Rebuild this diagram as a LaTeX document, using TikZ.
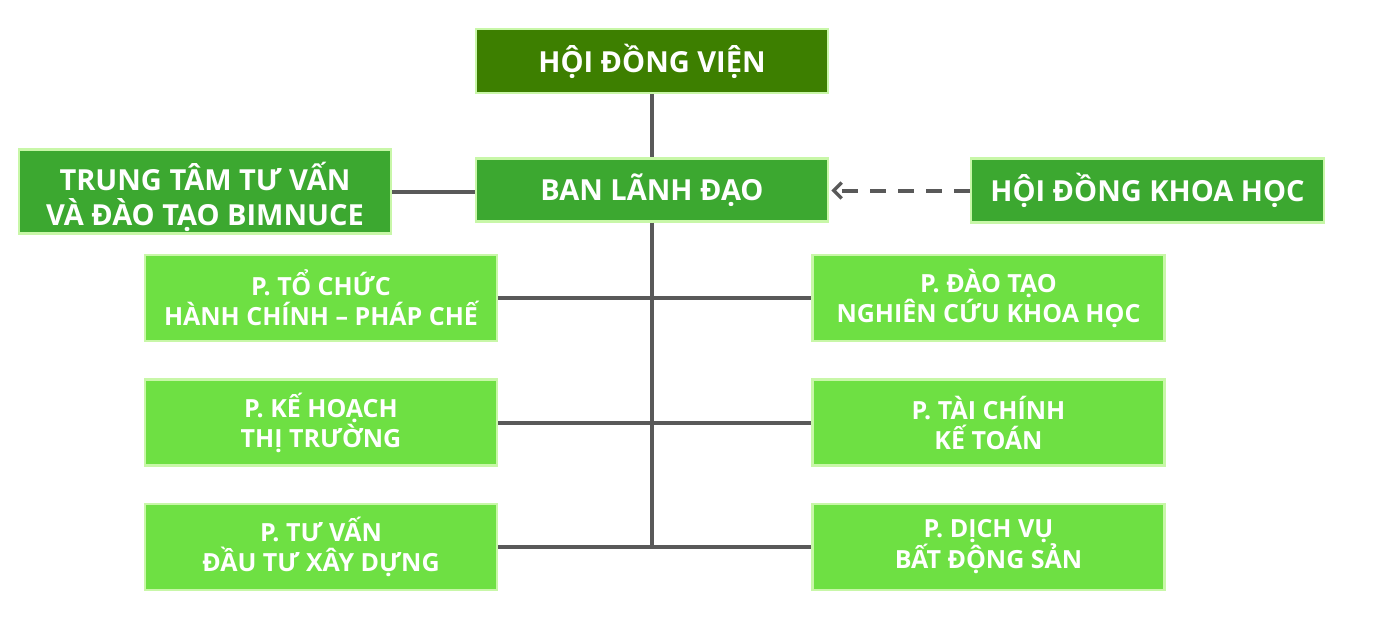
\documentclass[tikz,border=0pt]{standalone}
\usepackage{fontspec}
\setmainfont{Open Sans}[BoldFont={Open Sans Bold}]
\usetikzlibrary{arrows.meta}
\definecolor{dkgreen}{HTML}{3D7F00}
\definecolor{mdgreen}{HTML}{3CA830}
\definecolor{ltgreen}{HTML}{6EE043}
\definecolor{edgegreen}{HTML}{C8F7A8}
\definecolor{linegray}{HTML}{595959}
\tikzset{
  box/.style={draw=edgegreen, line width=2.5pt, text=white, align=center, inner sep=0pt, font=\bfseries},
  topbox/.style={box, font=\bfseries\fontsize{29}{35}\selectfont},
  dept/.style={box, fill=ltgreen, minimum width=352pt, minimum height=86pt, font=\bfseries\fontsize{25}{30}\selectfont},
  conn/.style={draw=linegray, line width=4pt},
}
\begin{document}
\begin{tikzpicture}[x=1pt,y=-1pt]
\useasboundingbox (0,0) rectangle (1385,635);
\node[topbox, fill=dkgreen, minimum width=352pt, minimum height=64pt] (hdv) at (652,61) {HỘI ĐỒNG VIỆN};
\node[topbox, fill=mdgreen, minimum width=352pt, minimum height=63pt] (bld) at (652,190) {BAN LÃNH ĐẠO};
\node[topbox, fill=mdgreen, minimum width=372pt, minimum height=84pt] (tt) at (205,191.5) {\rule{0pt}{40pt}TRUNG TÂM TƯ VẤN\\VÀ ĐÀO TẠO BIMNUCE};
\node[topbox, fill=mdgreen, minimum width=353pt, minimum height=64pt] (hdkh) at (1147.5,190.5) {HỘI ĐỒNG KHOA HỌC};
\node[dept] (l1) at (321,298) {P. TỔ CHỨC\\HÀNH CHÍNH – PHÁP CHẾ};
\node[dept] (l2) at (321,422.5) {P. KẾ HOẠCH\\THỊ TRƯỜNG};
\node[dept] (l3) at (321,547) {P. TƯ VẤN\\ĐẦU TƯ XÂY DỰNG};
\node[dept] (r1) at (988.5,298) {P. ĐÀO TẠO\\NGHIÊN CỨU KHOA HỌC};
\node[dept] (r2) at (988.5,422.5) {P. TÀI CHÍNH\\KẾ TOÁN};
\node[dept] (r3) at (988.5,547) {P. DỊCH VỤ\\BẤT ĐỘNG SẢN};
\coordinate (j1) at (652,298);
\coordinate (j2) at (652,422.5);
\coordinate (j3) at (652,547);
\draw[conn] (hdv.south) -- (bld.north);
\draw[conn] (tt.east) -- (tt.east -| bld.west);
\draw[conn] (bld.south) -- ([yshift=-2pt]j3);
\draw[conn] (l1.east) -- (r1.west);
\draw[conn] (l2.east) -- (r2.west);
\draw[conn] (l3.east) -- (r3.west);
\draw[conn, dash pattern=on 16pt off 12pt, -{Straight Barb[length=8pt,width=16pt,line width=3.5pt]}] (hdkh.west) -- ([xshift=2pt]bld.east |- hdkh.west);
\end{tikzpicture}
\end{document}
